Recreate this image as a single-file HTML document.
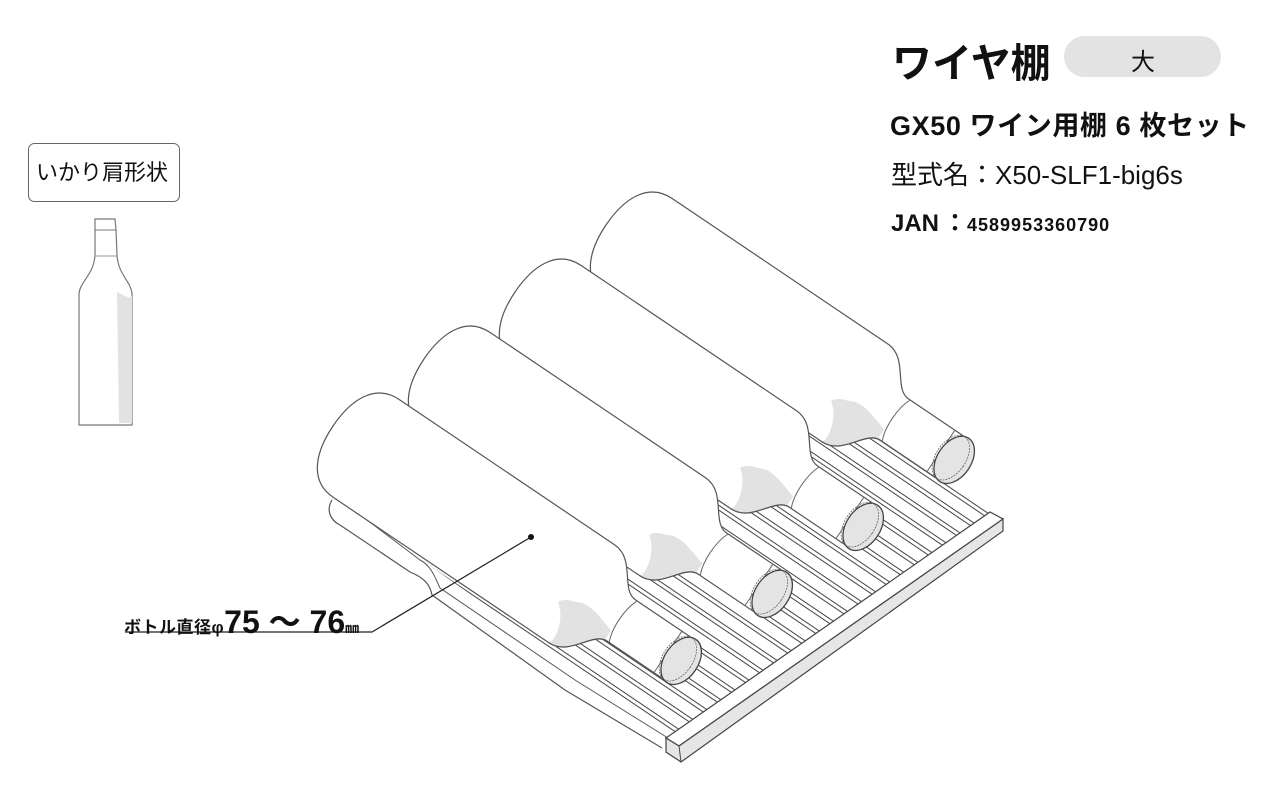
<!DOCTYPE html>
<html><head><meta charset="utf-8"><style>
body{margin:0;background:#fff;}
.wrap{position:relative;width:1280px;height:808px;overflow:hidden;font-family:"Liberation Sans","Noto Sans CJK JP",sans-serif;color:#111;}
.t{position:absolute;white-space:nowrap;}
</style></head><body><div class="wrap">
<svg width="1280" height="808" style="position:absolute;left:0;top:0">
<defs>
<pattern id="sl" width="20" height="16" patternUnits="userSpaceOnUse" patternTransform="rotate(34)">
<line x1="0" y1="1" x2="20" y2="1" stroke="#444" stroke-width="1"/>
<line x1="0" y1="5" x2="20" y2="5" stroke="#444" stroke-width="1"/>
</pattern>
<g id="b">
<path d="M40,-59 L300,-59 C325,-59 330,-25 348,-25 L422,-25 L422,25 L348,25 C330,25 325,59 300,59 L40,59 C10,59 0,30 0,0 C0,-30 10,-59 40,-59 Z" fill="#fff" stroke="#555" stroke-width="1.2"/>
<path d="M285,20 C300,30 305,55 300,59 C325,59 330,25 345,25 L345,14 C330,10 312,2 300,10 C293,12 287,15 285,20 Z" fill="#e2e2e2"/>
<path d="M300,59 C325,59 330,25 348,25" fill="none" stroke="#555" stroke-width="1.2"/>
<path d="M350,-25 C344,-12 344,12 350,25" fill="none" stroke="#666" stroke-width="1"/>
<path d="M404,-25 L404,25" stroke="#666" stroke-width="1"/>
<ellipse cx="420" cy="0" rx="17" ry="26" fill="#e4e4e4" stroke="#444" stroke-width="1.3"/>
<ellipse cx="416" cy="0" rx="15" ry="25" fill="none" stroke="#666" stroke-width="0.8" stroke-dasharray="2,1"/>
</g>
</defs>
<polygon points="345,505 672,738 992,513 670,290" fill="url(#sl)"/>
<path d="M332,500 C326,510 330,520 340,525 L410,572 C425,578 430,585 432,595 L565,690 L662,748" fill="none" stroke="#555" stroke-width="1.2"/>
<path d="M338,498 L420,560 C432,566 436,580 440,588 L575,680 L668,738" fill="none" stroke="#555" stroke-width="1"/>
<polygon points="666,738 990,512 1003,519 679,746" fill="#fff" stroke="#444" stroke-width="1.2"/>
<polygon points="679,746 1003,519 1003,531 681,762 666,752 666,738" fill="#e6e6e6" stroke="#444" stroke-width="1.2"/>
<line x1="679" y1="746" x2="681" y2="762" stroke="#444"/>
<use href="#b" transform="translate(606,225) rotate(34)"/>
<use href="#b" transform="translate(515,292) rotate(34)"/>
<use href="#b" transform="translate(424,359) rotate(34)"/>
<use href="#b" transform="translate(333,426) rotate(34)"/>
<circle cx="531" cy="537" r="3" fill="#111"/>
<polyline points="531,537 372,632 125,632" fill="none" stroke="#222" stroke-width="1.2"/>
<rect x="28.5" y="143.5" width="151" height="58" rx="6" fill="#fff" stroke="#666"/>
<path d="M95,219 L115,219 L116,230 L117,255 C118,275 132,282 132,295 L132,425 L79,425 L79,295 C79,282 94,275 95,255 L95,230 Z" fill="#fff" stroke="#777" stroke-width="1.2"/>
<path d="M117,292 C125,296 132,300 132,295 L132,423 L119,423 Z" fill="#e2e2e2"/>
<line x1="95" y1="230" x2="116" y2="230" stroke="#777"/>
<line x1="95" y1="256" x2="117" y2="256" stroke="#999"/>
<rect x="1064" y="36" width="157" height="41" rx="20.5" fill="#e3e3e3"/>
</svg>
<div class="t" style="left:36px;top:155px;font-size:22px;">いかり肩形状</div>
<div class="t" style="left:892px;top:31px;font-size:40px;font-weight:bold;">ワイヤ棚</div>
<div class="t" style="left:1131px;top:42px;font-size:24px;">大</div>
<div class="t" style="left:890px;top:104px;font-size:27px;font-weight:bold;letter-spacing:0.6px;">GX50 ワイン用棚 6 枚セット</div>
<div class="t" style="left:891px;top:155px;font-size:26px;">型式名：X50-SLF1-big6s</div>
<div class="t" style="left:891px;top:203px;font-size:24px;font-weight:bold;">JAN<span style="margin-left:4px">：</span><span style="font-size:18px;letter-spacing:1px">4589953360790</span></div>
<div class="t" style="left:124px;top:597px;font-weight:bold;"><span style="font-size:17px;letter-spacing:0.5px">ボトル直径φ</span><span style="font-size:32px">75 ～ 76</span><span style="font-size:14px">㎜</span></div>
</div></body></html>
